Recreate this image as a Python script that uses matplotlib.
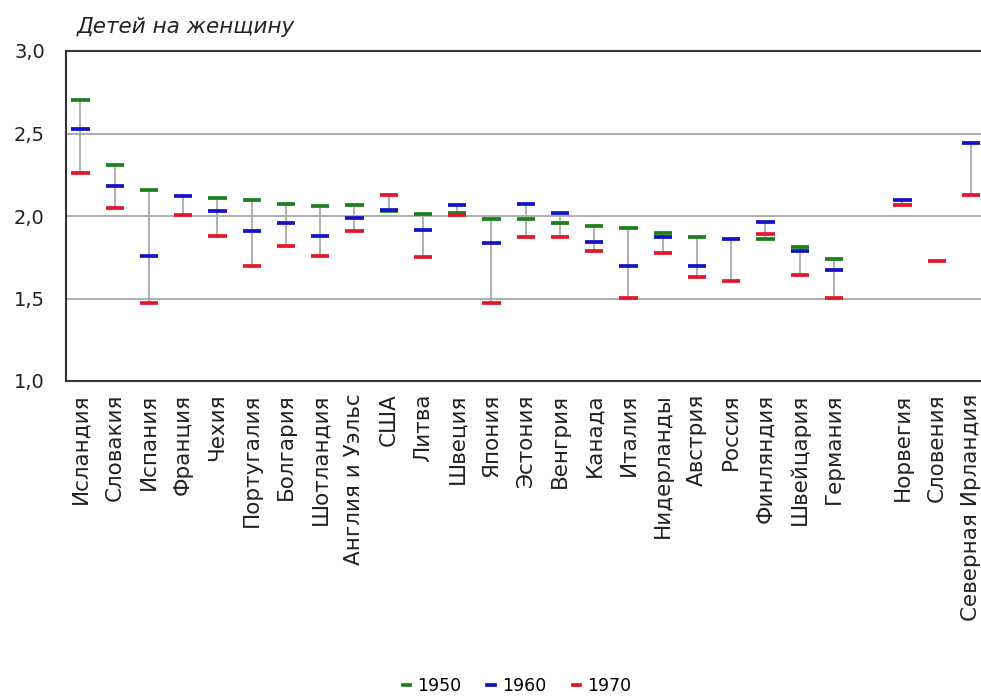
import numpy as np
import matplotlib
matplotlib.use("Agg")
import matplotlib.pyplot as plt
from matplotlib.lines import Line2D

plt.rcParams['font.family'] = ['DejaVu Sans']

countries = ["Исландия", "Словакия", "Испания", "Франция", "Чехия", "Португалия",
             "Болгария", "Шотландия", "Англия и Уэльс", "США", "Литва", "Швеция",
             "Япония", "Эстония", "Венгрия", "Канада", "Италия", "Нидерланды",
             "Австрия", "Россия", "Финляндия", "Швейцария", "Германия", "",
             "Норвегия", "Словения", "Северная Ирландия"]

nan = np.nan
v1950 = [2.70, 2.31, 2.155, nan, 2.11, 2.10, 2.07, 2.06, 2.065, 2.03, 2.015, 2.02,
         1.98, 1.98, 1.96, 1.94, 1.925, 1.90, 1.87, nan, 1.86, 1.815, 1.74, nan,
         nan, nan, nan]
v1960 = [2.53, 2.18, 1.76, 2.12, 2.03, 1.91, 1.96, 1.88, 1.99, 2.035, 1.915, 2.065,
         1.835, 2.07, 2.02, 1.845, 1.70, 1.87, 1.70, 1.86, 1.965, 1.79, 1.67, nan,
         2.10, nan, 2.44]
v1970 = [2.26, 2.05, 1.47, 2.005, 1.88, 1.70, 1.82, 1.76, 1.91, 2.125, 1.75, 2.005,
         1.47, 1.87, 1.87, 1.79, 1.505, 1.775, 1.63, 1.605, 1.89, 1.645, 1.505, nan,
         2.065, 1.73, 2.125]

years = ["1950", "1960", "1970"]
colors = ["#1f7f1f", "#1414c4", "#e0182a"]
y_ticks = [1.0, 1.5, 2.0, 2.5, 3.0]
y_ticklabels = ["1,0", "1,5", "2,0", "2,5", "3,0"]
ylabel = "Детей на женщину"

W, H = 981, 699
fig = plt.figure(figsize=(W / 100, H / 100), dpi=100)
ax = fig.add_axes([65.7 / W, 1 - 381 / H, (W - 65.7) / W, (381 - 51) / H])

x = np.arange(len(countries))
series = [np.array(v1950), np.array(v1960), np.array(v1970)]
allv = np.vstack(series)

# range lines
for i in x:
    col = allv[:, i]
    col = col[~np.isnan(col)]
    if len(col) > 1:
        ax.vlines(i, col.min(), col.max(), color="#a9a9a9", lw=1.3, zorder=2)

hw = 0.265
for s, c in zip(series, colors):
    m = ~np.isnan(s)
    ax.hlines(s[m], x[m] - hw, x[m] + hw, color=c, lw=2.7, zorder=3)

ax.set_xlim(-0.43, (W - 80.5) / 34.25)
ax.set_ylim(1.0, 3.0)
ax.set_yticks(y_ticks)
ax.set_yticklabels(y_ticklabels, fontsize=14, color="#222222")
ax.set_xticks(x)
ax.set_xticklabels(countries, rotation=90, fontsize=15.5, color="#222222", va="top", ha="center")
ax.tick_params(axis="both", length=0)
ax.tick_params(axis="y", pad=15)
ax.tick_params(axis="x", pad=9)

for yv in [1.5, 2.0, 2.5]:
    ax.axhline(yv, color="#a0a0a0", lw=1.2, zorder=1)

for side in ["left", "top", "bottom"]:
    ax.spines[side].set_color("#333333")
    ax.spines[side].set_linewidth(1.5)
ax.spines["right"].set_visible(False)

fig.text(77 / W, 1 - 27 / H, ylabel, fontsize=15.5, style="italic", color="#222222",
         ha="left", va="center")

handles = [Line2D([0], [0], color=c, lw=2.7) for c in colors]
fig.legend(handles, years, loc="center", bbox_to_anchor=(517 / W, 1 - 686 / H),
           ncol=3, frameon=False, fontsize=12.5, handlelength=0.45, handletextpad=0.4,
           columnspacing=1.5, borderpad=0.1)

fig.savefig("out.png", dpi=100)
